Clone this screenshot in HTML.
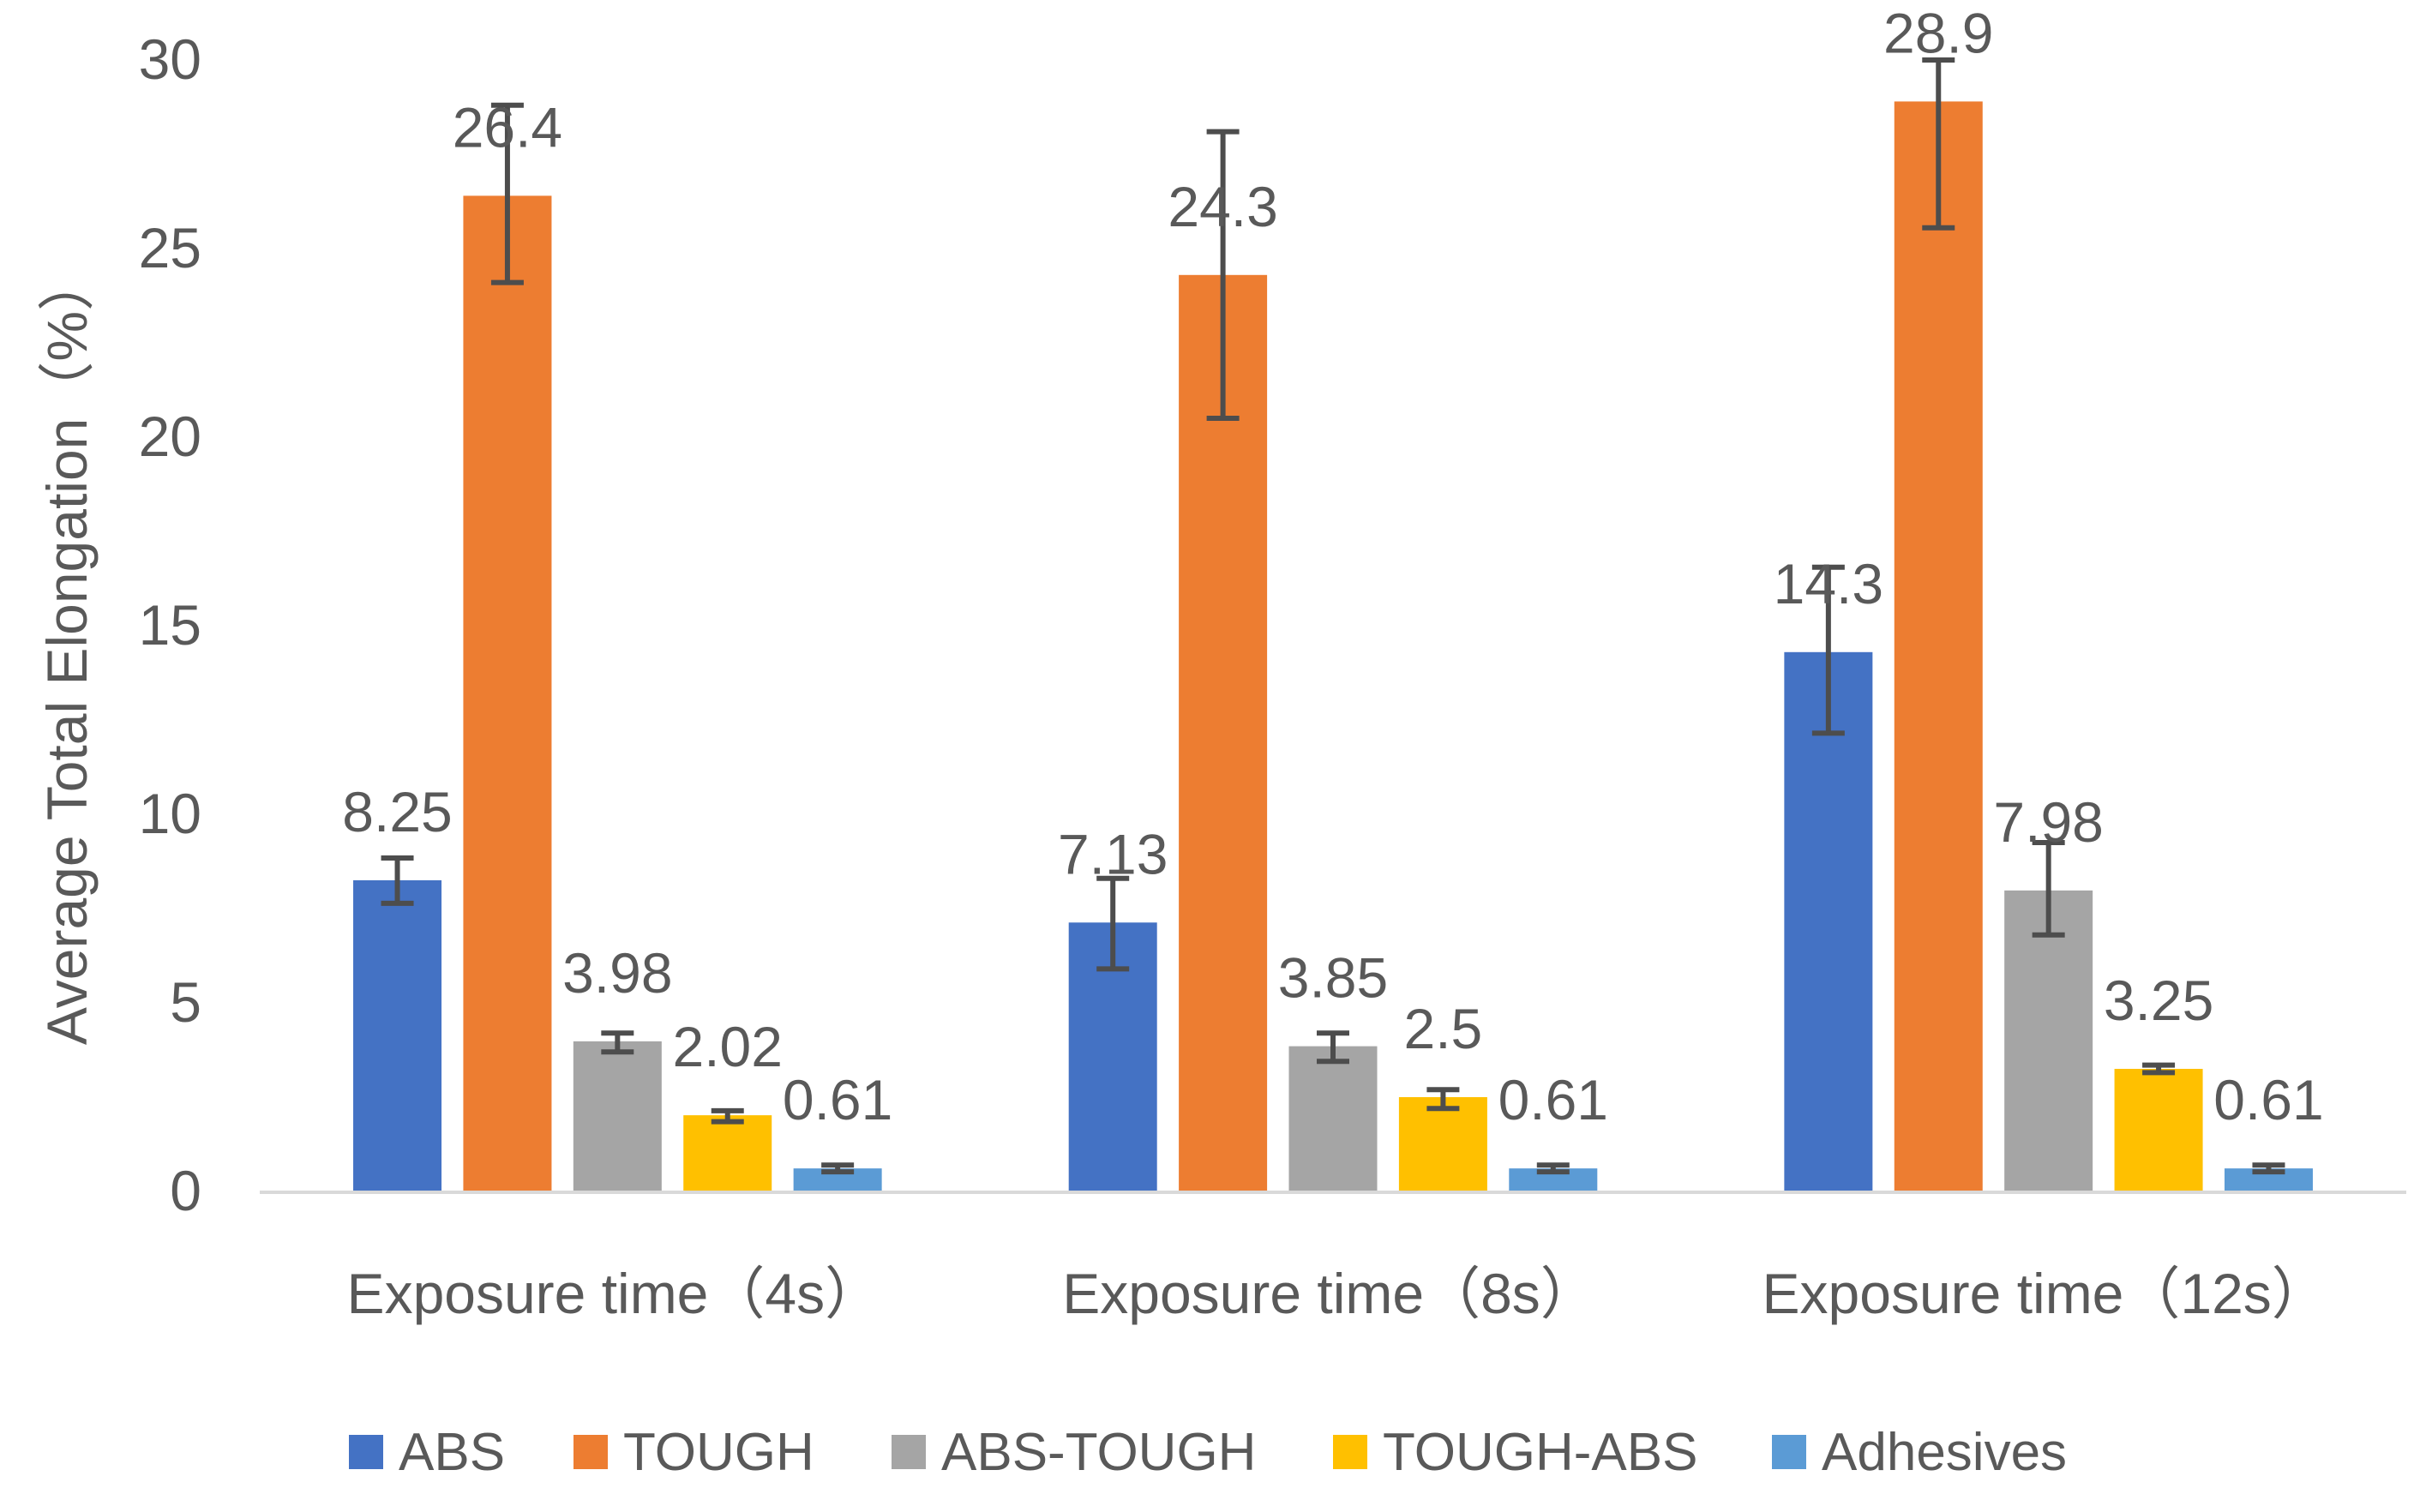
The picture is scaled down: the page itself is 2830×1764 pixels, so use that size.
<!DOCTYPE html>
<html><head><meta charset="utf-8">
<style>
html,body{margin:0;padding:0;background:#fff;}
svg{display:block;}
text{font-family:"Liberation Sans","Noto Sans CJK SC",sans-serif;fill:#595959;}
</style></head>
<body>
<svg id="chart" width="2830" height="1764" viewBox="0 0 2830 1764" xmlns="http://www.w3.org/2000/svg"></svg>
<script>
const categories = ["Exposure time（4s）", "Exposure time（8s）", "Exposure time（12s）"];
const seriesNames = ["ABS", "TOUGH", "ABS-TOUGH", "TOUGH-ABS", "Adhesives"];
const seriesColors = ["#4472c4", "#ed7d31", "#a5a5a5", "#ffc000", "#5b9bd5"];
const absValues = [8.25, 7.13, 14.3];
const toughValues = [26.4, 24.3, 28.9];
const absToughValues = [3.98, 3.85, 7.98];
const toughAbsValues = [2.02, 2.5, 3.25];
const adhesivesValues = [0.61, 0.61, 0.61];
const absErrLow = [7.64, 5.9, 12.15];
const absErrHigh = [8.84, 8.3, 16.55];
const toughErrLow = [24.1, 20.5, 25.55];
const toughErrHigh = [28.8, 28.1, 30.0];
const absToughErrLow = [3.7, 3.45, 6.8];
const absToughErrHigh = [4.2, 4.2, 9.25];
const toughAbsErrLow = [1.85, 2.2, 3.15];
const toughAbsErrHigh = [2.14, 2.7, 3.35];
const adhesivesErrLow = [0.52, 0.52, 0.52];
const adhesivesErrHigh = [0.7, 0.7, 0.7];
const valueLabels = [["8.25","7.13","14.3"],["26.4","24.3","28.9"],["3.98","3.85","7.98"],["2.02","2.5","3.25"],["0.61","0.61","0.61"]];
const yTicks = [0, 5, 10, 15, 20, 25, 30];

const series = [absValues, toughValues, absToughValues, toughAbsValues, adhesivesValues];
const errLow = [absErrLow, toughErrLow, absToughErrLow, toughAbsErrLow, adhesivesErrLow];
const errHigh = [absErrHigh, toughErrHigh, absToughErrHigh, toughAbsErrHigh, adhesivesErrHigh];

const svg = document.getElementById('chart');
const NS = 'http://www.w3.org/2000/svg';
const X0 = 303, X1 = 2807, Y0 = 1390, YTOP = 70, YMAX = 30;
const catW = (X1 - X0) / categories.length;
const barW = 103, barStep = 128.4;
function y(v){ return Y0 - (v / YMAX) * (Y0 - YTOP); }
function catCenter(i){ return X0 + catW * (i + 0.5); }
function barX(i, s){ return catCenter(i) + (s - (series.length - 1) / 2) * barStep - barW / 2; }
function mk(tag, attrs, txt){
  const e = document.createElementNS(NS, tag);
  for (const k in attrs) e.setAttribute(k, attrs[k]);
  if (txt !== undefined) e.textContent = txt;
  svg.appendChild(e);
  return e;
}

yTicks.forEach(t => {
  const e = mk('text', {x: 235, y: y(t) + 22, 'text-anchor': 'end', 'font-size': 66}, String(t));
  
  
});

const yt = mk('text', {x: 0, y: 0, 'text-anchor': 'middle', 'font-size': 66, transform: 'translate(101,758) rotate(-90)'}, 'Average Total Elongation（%）');



series.forEach((vals, s) => {
  vals.forEach((v, i) => {
    const bx = barX(i, s);
    const r = mk('rect', {x: bx, y: y(v), width: barW, height: Y0 - y(v), fill: seriesColors[s]});
    
    
  });
});

const ax = mk('line', {x1: X0, y1: Y0 + 1, x2: X1, y2: Y0 + 1, stroke: '#d9d9d9', 'stroke-width': 4});



series.forEach((vals, s) => {
  vals.forEach((v, i) => {
    const cx = barX(i, s) + barW / 2;
    const lo = y(errLow[s][i]), hi = y(errHigh[s][i]);
    const g = document.createElementNS(NS, 'g');
    
    
    g.setAttribute('stroke', '#4d4d4d');
    g.setAttribute('stroke-width', 6);
    [[cx, lo, cx, hi], [cx - 19, lo, cx + 19, lo], [cx - 19, hi, cx + 19, hi]].forEach(p => {
      const l = document.createElementNS(NS, 'line');
      l.setAttribute('x1', p[0]); l.setAttribute('y1', p[1]);
      l.setAttribute('x2', p[2]); l.setAttribute('y2', p[3]);
      g.appendChild(l);
    });
    svg.appendChild(g);
  });
});

series.forEach((vals, s) => {
  vals.forEach((v, i) => {
    const cx = barX(i, s) + barW / 2;
    const t = mk('text', {x: cx, y: y(v) - 57, 'text-anchor': 'middle', 'font-size': 66}, valueLabels[s][i]);
    
    
  });
});

categories.forEach((c, i) => {
  const t = mk('text', {x: catCenter(i) - 4, y: 1532, 'text-anchor': 'middle', 'font-size': 66}, c);
  
  
});

const legendX = [407, 669, 1040, 1555, 2067];
seriesNames.forEach((n, s) => {
  const sw = mk('rect', {x: legendX[s], y: 1674, width: 40, height: 40, fill: seriesColors[s]});
  
  
  const t = mk('text', {x: legendX[s] + 58, y: 1715, 'font-size': 62}, n);
  
  
});
</script>
</body></html>
